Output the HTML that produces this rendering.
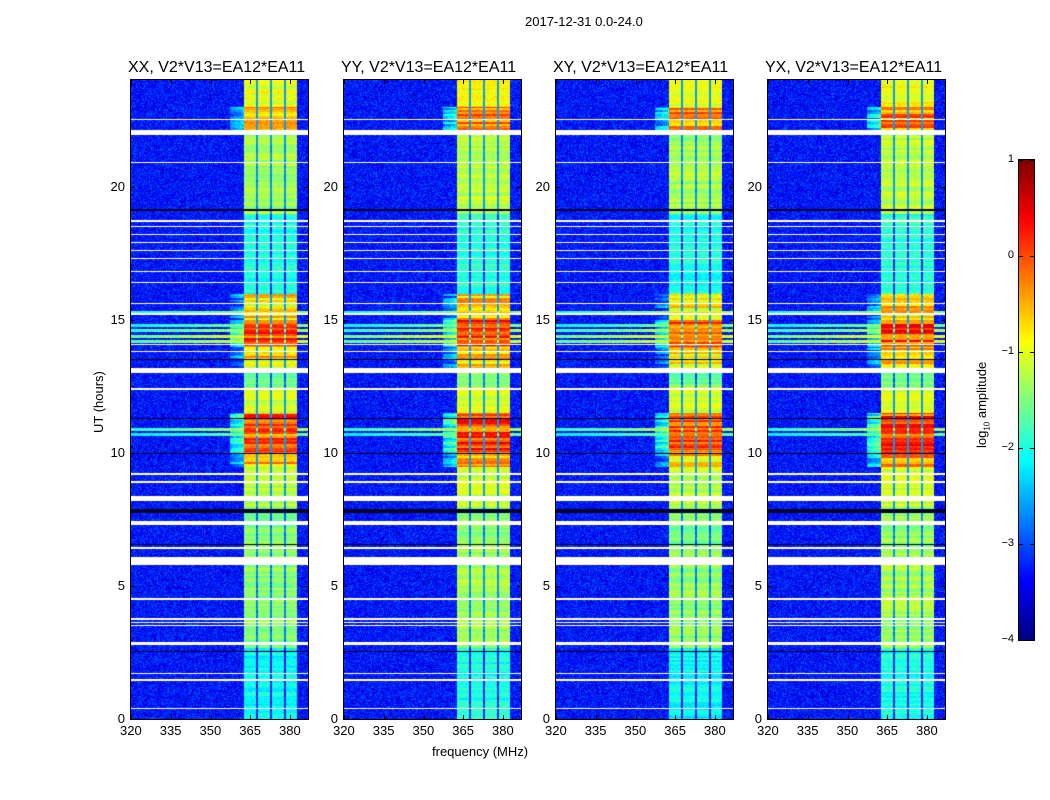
<!DOCTYPE html>
<html><head><meta charset="utf-8">
<style>
body{margin:0;background:#fff;width:1050px;height:800px;overflow:hidden;font-family:"Liberation Sans",sans-serif;}
#root{position:relative;width:1050px;height:800px;}
.t{position:absolute;font-size:13px;color:#000;white-space:nowrap;}
.title{font-size:16px;}
canvas{position:absolute;}
.frame{position:absolute;border:1px solid #000;box-sizing:border-box;}
.tk{position:absolute;background:#000;}
</style></head>
<body><div id="root">
<div class="t" style="left:525px;top:14px">2017-12-31 0.0-24.0</div>
<div class="t" style="left:432px;top:744px">frequency (MHz)</div>
<div class="t" style="left:91px;top:433px;transform:rotate(-90deg);transform-origin:0 0">UT (hours)</div>
<div class="t" style="left:974px;top:448px;transform:rotate(-90deg);transform-origin:0 0">log<sub style="font-size:8px">10</sub> amplitude</div>
<canvas id="cb" width="15" height="480" style="left:1019px;top:160px"></canvas>
<div class="frame" style="left:1018px;top:159px;width:17px;height:482px"></div>
</div>
<script>
// ---- data ----
const panelTitles = ["XX, V2*V13=EA12*EA11","YY, V2*V13=EA12*EA11","XY, V2*V13=EA12*EA11","YX, V2*V13=EA12*EA11"];
const panelLefts = [131,344,556,768];
const xTicks = [320,335,350,365,380];
const yTicks = [0,5,10,15,20];
const cbTicks = [1,0,-1,-2,-3,-4];
// time band starts (hours) and bright-band log10 amplitude (362-383 MHz)
const bandStart = [0,2.7,6.5,8,9.5,10.0,11.5,12.5,13.2,14.0,15.0,16,19,22,23];
const bandLevel = [-2.1,-1.4,-1.5,-1.2,-0.6,-0.1,-1.1,-1.6,-0.7,-0.1,-0.8,-2.0,-1.3,-0.4,-1.0];
// background rfi rows (hours, level) on low frequencies
const rfiRows = [[10.7,-1.6],[10.9,-1.3],[14.2,-1.1],[14.4,-1.0],[14.6,-1.3],[14.8,-1.5],[15.3,-1.4]];
// flagged (white) rows: [start, end] hours
const flagRows = [[0.38,0.44],[1.45,1.52],[1.7,1.76],[2.78,2.92],[3.5,3.55],[3.62,3.67],[3.75,3.8],[4.5,4.55],[5.8,6.1],[6.4,6.48],[7.3,7.45],[8.2,8.4],[8.9,8.95],[9.2,9.25],[12.38,12.45],[13.0,13.2],[13.8,13.85],[14.05,14.1],[15.2,15.25],[15.6,15.65],[16.4,16.45],[16.8,16.85],[17.3,17.35],[17.6,17.65],[17.9,17.95],[18.2,18.25],[18.5,18.55],[18.7,18.75],[20.9,20.95],[21.95,22.15],[22.5,22.55]];
const blackRows = [[7.75,7.9],[6.55,6.58],[9.97,10.0],[11.3,11.33],[13.5,13.53],[19.1,19.16],[22.8,22.82],[5.3,5.32],[2.55,2.57]];
// sub-band gaps (MHz)
const gapFreqs = [367.3,372.6,377.9];
const brightLo = 362.3, brightHi = 382.6;
// ---- scales ----
const PW=177, PH=639, TOP=80;
const fx = f => (f-320)*2.65;
const fy = h => PH - h*PH/24;
function jet(v){ // v -4..1
  let t=(v+4)/5; t=Math.max(0,Math.min(1,t));
  const r=Math.max(0,Math.min(1,1.5-Math.abs(4*t-3)));
  const g=Math.max(0,Math.min(1,1.5-Math.abs(4*t-2)));
  const b=Math.max(0,Math.min(1,1.5-Math.abs(4*t-1)));
  return [r*255|0,g*255|0,b*255|0];
}
function hash(a,b,c){let h=(a*374761393+b*668265263+c*2147483647)|0;h=(h^(h>>>13))*1274126177|0;return ((h^(h>>>16))>>>0)/4294967296;}
const root=document.getElementById('root');
function mk(tag,cls,style,name){const e=document.createElement(tag);if(cls)e.className=cls;e.style.cssText=style;


root.appendChild(e);return e;}
panelLefts.forEach((L,p)=>{
  const t=mk('div','t title','left:'+(L-3)+'px;top:59px','panel-title-'+p); t.textContent=panelTitles[p];
  const c=document.createElement('canvas'); c.width=PW;c.height=PH;c.style.left=L+'px';c.style.top=TOP+'px';
  
  
  root.appendChild(c);
  const ctx=c.getContext('2d'); const img=ctx.createImageData(PW,PH);
  for(let y=0;y<PH;y++){
    const h=(PH-y)*24/PH;
    let bi=0; for(let i=0;i<bandStart.length;i++) if(h>=bandStart[i]) bi=i;
    const rowN=hash(y>>1,7,p)-0.5;
    const bl=bandLevel[bi] + (p%2?0.1:0) + rowN*(bandLevel[bi]>-0.9?1.0:0.4);
    let rfi=null; rfiRows.forEach(r=>{if(Math.abs(h-r[0])<0.06) rfi=r[1];});
    const flag=flagRows.some(r=>h>=r[0]&&h<=r[1]);
    const blk=blackRows.some(r=>h>=r[0]&&h<=r[1]);
    for(let x=0;x<PW;x++){
      const f=320+x/2.65; const k=(y*PW+x)*4;
      if(flag){img.data[k]=img.data[k+1]=img.data[k+2]=255;img.data[k+3]=255;continue;}
      if(blk){img.data[k]=0;img.data[k+1]=0;img.data[k+2]=40;img.data[k+3]=255;continue;}
      const n=hash(x,y,p)-0.5;
      let v=-3.3+n*0.8;
      if(rfi!==null) v=Math.max(v, rfi + (f>362? 0: (f-362)*0.015) + n*0.5);
      if(f>=brightLo&&f<=brightHi){
        let vv=bl+n*0.35;
        if(gapFreqs.some(g=>Math.abs(f-g)<0.5)) vv=Math.min(vv-1.3,-2.6);
        v=Math.max(v,vv);
      } else if(f>357&&f<brightLo && bandLevel[bi]>-0.9){ v=Math.max(v, bl-2.3+(f-357)*0.08+n*0.5); }
      const col=jet(v); img.data[k]=col[0];img.data[k+1]=col[1];img.data[k+2]=col[2];img.data[k+3]=255;
    }
  }
  ctx.putImageData(img,0,0);
  mk('div','frame','left:'+(L-1)+'px;top:'+(TOP-1)+'px;width:'+(PW+2)+'px;height:'+(PH+2)+'px','panel-frame-'+p);
  xTicks.forEach(v=>{const x=L+fx(v);
    mk('div','tk','left:'+x+'px;top:'+(TOP+PH-4)+'px;width:1px;height:4px','x-tick-mark');
    mk('div','tk','left:'+x+'px;top:'+TOP+'px;width:1px;height:4px','x-tick-mark-top');
    const e=mk('div','t','left:'+(x-11)+'px;top:'+(TOP+PH+4)+'px','x-tick-label'); e.textContent=v;});
  yTicks.forEach(v=>{const y=TOP+fy(v);
    mk('div','tk','left:'+L+'px;top:'+y+'px;width:4px;height:1px','y-tick-mark');
    mk('div','tk','left:'+(L+PW-4)+'px;top:'+y+'px;width:4px;height:1px','y-tick-mark-right');
    const e=mk('div','t','left:'+(L-26)+'px;top:'+(y-8)+'px;width:20px;text-align:right','y-tick-label'); e.textContent=v;});
});
// colorbar
const cb=document.getElementById('cb').getContext('2d');
for(let y=0;y<480;y++){const c=jet(1-y*5/480);cb.fillStyle='rgb('+c+')';cb.fillRect(0,y,15,1);}
cbTicks.forEach(v=>{const y=160+(1-v)*96;
  mk('div','tk','left:1019px;top:'+y+'px;width:4px;height:1px','colorbar-tick');
  mk('div','tk','left:1030px;top:'+y+'px;width:4px;height:1px','colorbar-tick-right');
  const e=mk('div','t','left:990px;top:'+(y-7)+'px;width:24px;text-align:right;font-size:11px','colorbar-tick-label');
  e.textContent=(v<0?'\u2212'+(-v):v);});
</script>
</body></html>
